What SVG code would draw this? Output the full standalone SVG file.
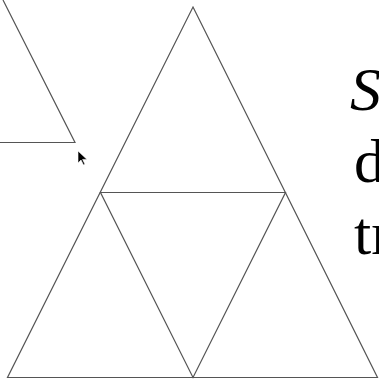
<svg xmlns="http://www.w3.org/2000/svg" width="379" height="381" viewBox="0 0 379 381">
<style>
.edge{fill:none;stroke:#555;stroke-width:1.2;stroke-linejoin:miter}
.t{font-family:"Liberation Serif","Times New Roman",serif;font-size:62px;fill:#000}
</style>
<rect width="379" height="381" fill="#fff"/>
<g id="connectors">
<polyline class="edge" points="3,0 75,142.5 0,142.5"/>
<polygon class="edge" points="193,7 377.5,377.5 7.5,377.5"/>
<polygon class="edge" points="100.5,192.5 285.5,192.5 193,377.5"/>
</g>
<g id="cursor">
<polygon points="78,151 78,163 81,160 83.5,165 85,164.3 82.6,159.4 87,159.4" fill="#000" stroke="#fff" stroke-width="0.6"/>
</g>
<g id="text">
<text class="t" x="350" y="110" font-style="italic">S</text>
<text class="t" x="354" y="182">d</text>
<text class="t" x="354" y="254">tr</text>
</g>
</svg>
